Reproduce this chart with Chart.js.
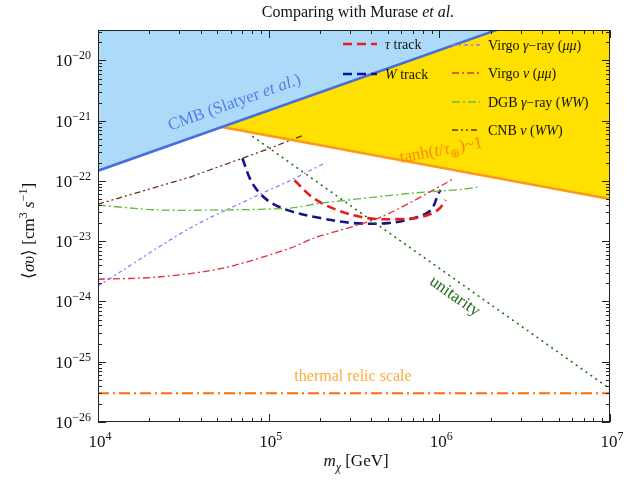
<!DOCTYPE html>
<html>
<head>
<meta charset="utf-8">
<script src="https://cdn.jsdelivr.net/npm/chart.js@4.4.1/dist/chart.umd.min.js"></script>
<style>html,body{margin:0;padding:0;background:#fff}canvas{display:block}</style>
</head>
<body>
<canvas id="c" width="641" height="480"></canvas>
<script>
// axis limits and tick labels (powers of ten)
const massRange = [1e4, 1e7];
const sigmaRange = [1e-26, 3.2e-20];
const xTickPowers = [4, 5, 6, 7];
const yTickPowers = [-26, -25, -24, -23, -22, -21, -20];

// excluded regions / bounds
const cmbMass = [1e4, 5.32e4, 1e7];
const cmbSigma = [1.48e-22, 7.87e-22, 1.48e-19];
const tanhMass = [5.32e4, 1e7];
const tanhSigma = [7.87e-22, 5.0e-23];
const unitarityMass = [8.02e4, 1e7];
const unitaritySigma = [5.53e-22, 3.55e-26];
const relicMass = [1e4, 1e7];
const relicSigma = [3e-26, 3e-26];

// tracks
const tauMass = [1.416e5, 1.83e5, 2.53e5, 3.8e5, 5.7e5, 7.78e5, 9.77e5, 1.09e6];
const tauSigma = [1.03e-22, 5.19e-23, 3.28e-23, 2.42e-23, 2.33e-23, 2.51e-23, 3.28e-23, 4.81e-23];
const wMass = [7.01e4, 8.02e4, 9.82e4, 1.29e5, 2.01e5, 3.14e5, 4.98e5, 7.08e5, 8.91e5, 9.91e5, 1.02e6];
const wSigma = [2.39e-22, 9.2e-23, 4.81e-23, 3.28e-23, 2.42e-23, 2.0e-23, 2.0e-23, 2.42e-23, 3.28e-23, 6.31e-23, 7.08e-23];

// Murase et al. limits
const virgoGammaMass = [1e4, 1.4e4, 3.47e4, 8.59e4, 1.34e5, 2.15e5];
const virgoGammaSigma = [1.8e-24, 3.31e-24, 1.66e-23, 5.75e-23, 1.02e-22, 2.0e-22];
const virgoNuMass = [1e4, 2.22e4, 5.42e4, 1.34e5, 1.83e5, 4.53e5, 1.12e6, 1.22e6];
const virgoNuSigma = [2.34e-24, 2.54e-24, 3.58e-24, 7.69e-24, 1.12e-23, 2.51e-23, 9.55e-23, 1.12e-22];
const dgbMass = [1e4, 2.22e4, 5.42e4, 1.34e5, 2.01e5, 7.08e5, 1.34e6, 1.68e6];
const dgbSigma = [3.98e-23, 3.31e-23, 3.31e-23, 3.55e-23, 4.27e-23, 6.31e-23, 7.24e-23, 7.94e-23];
const cnbMass = [1e4, 3.47e4, 1.02e5, 1.6e5];
const cnbSigma = [4.12e-23, 1.16e-22, 3.5e-22, 5.75e-22];

const SERIF = '"Liberation Serif", "Times New Roman", serif';

const pts = (m, s) => m.map((v, i) => ({ x: v, y: s[i] }));

function line(label, m, s, color, width, dash, extra) {
    return Object.assign({
        label: label, data: pts(m, s), borderColor: color, borderWidth: width,
        borderDash: dash, pointRadius: 0, showLine: true, fill: false, tension: 0
    }, extra || {});
}

const datasets = [
    line('CMB', cmbMass, cmbSigma, 'rgb(70,110,225)', 2.5, [], { fill: 'end', backgroundColor: 'rgb(172,218,248)' }),
    line('tanh', tanhMass, tanhSigma, 'rgb(255,150,30)', 2.5, [], { fill: { target: 0 }, backgroundColor: 'rgb(255,224,0)' }),
    line('thermal', relicMass, relicSigma, 'rgb(255,105,10)', 1.8, [11, 4, 2, 4]),
    line('unitarity', unitarityMass, unitaritySigma, 'rgb(25,115,25)', 1.6, [2, 4]),
    line('CNB', cnbMass, cnbSigma, 'rgb(100,50,20)', 1.3, [6, 3, 2, 3, 2, 3]),
    line('DGB', dgbMass, dgbSigma, 'rgb(105,185,50)', 1.3, [8, 3, 2, 3], { tension: 0.3 }),
    line('VirgoNu', virgoNuMass, virgoNuSigma, 'rgb(225,45,60)', 1.3, [7, 3, 2, 3], { tension: 0.3 }),
    line('VirgoGamma', virgoGammaMass, virgoGammaSigma, 'rgb(140,125,255)', 1.3, [4, 3, 2, 3], { tension: 0.3 }),
    line('tau', tauMass, tauSigma, 'rgb(230,30,30)', 2.6, [9, 5], { tension: 0.35 }),
    line('W', wMass, wSigma, 'rgb(20,20,140)', 2.6, [9, 5], { tension: 0.35 })
];

// legend: dataset index, line start x, y, text parts
const legendRows = [
    [8, 343, 44, [['τ', 'i'], [' track', '']]],
    [9, 343, 74, [['W', 'i'], [' track', '']]],
    [7, 452, 45, [['Virgo ', ''], ['γ', 'i'], ['−ray (', ''], ['μμ', 'i'], [')', '']]],
    [6, 452, 73, [['Virgo ', ''], ['ν', 'i'], [' (', ''], ['μμ', 'i'], [')', '']]],
    [5, 452, 102, [['DGB ', ''], ['γ', 'i'], ['−ray (', ''], ['WW', 'i'], [')', '']]],
    [4, 452, 130, [['CNB ', ''], ['ν', 'i'], [' (', ''], ['WW', 'i'], [')', '']]]
];

function partFont(style, size) {
    const small = style.indexOf('sup') >= 0 || style.indexOf('sub') >= 0;
    const it = style.indexOf('i') >= 0 && style !== 'sub' ? 'italic ' : '';
    return it + (small ? Math.round(size * 0.7) : size) + 'px ' + SERIF;
}
function partDy(style, size) {
    if (style.indexOf('sup') === 0) return -size * 0.42;
    if (style.indexOf('sub') === 0) return size * 0.28;
    return 0;
}
function richWidth(ctx, parts, size) {
    let w = 0;
    parts.forEach(p => { ctx.font = partFont(p[1], size); w += ctx.measureText(p[0]).width; });
    return w;
}
function drawRich(ctx, parts, x, y, size, align) {
    const w = richWidth(ctx, parts, size);
    let cx = align === 'center' ? x - w / 2 : align === 'right' ? x - w : x;
    ctx.textAlign = 'left';
    ctx.textBaseline = 'alphabetic';
    parts.forEach(p => {
        ctx.font = partFont(p[1], size);
        ctx.fillText(p[0], cx, y + partDy(p[1], size));
        cx += ctx.measureText(p[0]).width;
    });
}
function seg(ctx, x1, y1, x2, y2) {
    ctx.beginPath(); ctx.moveTo(x1, y1); ctx.lineTo(x2, y2); ctx.stroke();
}

const decor = {
    id: 'decor',
    afterDatasetsDraw(chart) {
        const ctx = chart.ctx, a = chart.chartArea, xs = chart.scales.x, ys = chart.scales.y;
        ctx.save();

        // labels inside the plot
        const rot = (parts, x, y, deg, size, color) => {
            ctx.save(); ctx.translate(x, y); ctx.rotate(deg * Math.PI / 180);
            ctx.fillStyle = color; drawRich(ctx, parts, 0, 0, size, 'center'); ctx.restore();
        };
        rot([['CMB (Slatyer ', ''], ['et al.', 'i'], [')', '']], 236, 107, -19.7, 17, 'rgb(85,125,230)');
        rot([['tanh(', ''], ['t', 'i'], ['/', ''], ['τ', 'i'], ['⊕', 'sub'], [')~1', '']], 442, 155, -10.6, 17, 'rgb(255,135,0)');
        rot([['unitarity', '']], 452, 300, 35, 17, 'rgb(30,110,30)');
        ctx.fillStyle = 'rgb(255,170,60)';
        drawRich(ctx, [['thermal relic scale', '']], 353, 381, 16, 'center');

        // legend
        legendRows.forEach(r => {
            const ds = chart.data.datasets[r[0]];
            const len = r[1] < 400 ? 34 : 28;
            ctx.strokeStyle = ds.borderColor; ctx.lineWidth = ds.borderWidth;
            ctx.setLineDash(ds.borderDash);
            seg(ctx, r[1], r[2], r[1] + len, r[2]);
            ctx.setLineDash([]);
            ctx.fillStyle = '#111';
            drawRich(ctx, r[3], r[1] + len + 8, r[2] + 5, 14, 'left');
        });

        // frame and inward ticks on all sides
        ctx.strokeStyle = '#222'; ctx.lineWidth = 1;
        ctx.strokeRect(a.left + 0.5, a.top + 0.5, a.right - a.left - 1, a.bottom - a.top - 1);
        for (let p = 4; p <= 7; p++) {
            for (let k = 1; k < 10; k++) {
                const v = k * Math.pow(10, p);
                if (v > massRange[1]) break;
                const px = Math.round(xs.getPixelForValue(v)) + 0.5;
                const L = k === 1 ? 8 : 4;
                seg(ctx, px, a.bottom, px, a.bottom - L);
                seg(ctx, px, a.top, px, a.top + L);
            }
        }
        for (let p = -26; p <= -20; p++) {
            for (let k = 1; k < 10; k++) {
                const v = k * Math.pow(10, p);
                if (v > sigmaRange[1]) break;
                const py = Math.round(ys.getPixelForValue(v)) + 0.5;
                const L = k === 1 ? 8 : 4;
                seg(ctx, a.left, py, a.left + L, py);
                seg(ctx, a.right, py, a.right - L, py);
            }
        }

        // tick labels
        ctx.fillStyle = '#111';
        xTickPowers.forEach(p => {
            const px = xs.getPixelForValue(Math.pow(10, p));
            drawRich(ctx, [['10', ''], [String(p), 'sup']], px + 2, 447, 17, 'center');
        });
        yTickPowers.forEach(p => {
            const py = ys.getPixelForValue(Math.pow(10, p));
            drawRich(ctx, [['10', ''], ['−' + String(-p), 'sup']], a.left - 7, py + 6, 17, 'right');
        });

        // axis titles and chart title
        drawRich(ctx, [['m', 'i'], ['χ', 'subi'], [' [GeV]', '']], (a.left + a.right) / 2 + 2, 466, 17, 'center');
        ctx.save(); ctx.translate(34, 231); ctx.rotate(-Math.PI / 2);
        drawRich(ctx, [['⟨', ''], ['συ', 'i'], ['⟩ [cm', ''], ['3', 'sup'], [' ', ''], ['s', 'i'], ['−1', 'sup'], [']', '']], 0, 0, 17, 'center');
        ctx.restore();
        drawRich(ctx, [['Comparing with Murase ', ''], ['et al.', 'i']], 358, 17, 16, 'center');

        ctx.restore();
    }
};

new Chart(document.getElementById('c'), {
    type: 'scatter',
    data: { datasets: datasets },
    options: {
        responsive: false,
        animation: false,
        layout: { padding: { top: 30, right: 31, left: 0, bottom: 0 } },
        plugins: {
            legend: { display: false },
            tooltip: { enabled: false },
            filler: { drawTime: 'beforeDatasetsDraw' }
        },
        scales: {
            x: {
                type: 'logarithmic', min: massRange[0], max: massRange[1],
                grid: { display: false }, border: { display: false },
                ticks: { display: false },
                afterFit: s => { s.height = 58; }
            },
            y: {
                type: 'logarithmic', min: sigmaRange[0], max: sigmaRange[1],
                grid: { display: false }, border: { display: false },
                ticks: { display: false },
                afterFit: s => { s.width = 98; }
            }
        }
    },
    plugins: [decor]
});
</script>
</body>
</html>
